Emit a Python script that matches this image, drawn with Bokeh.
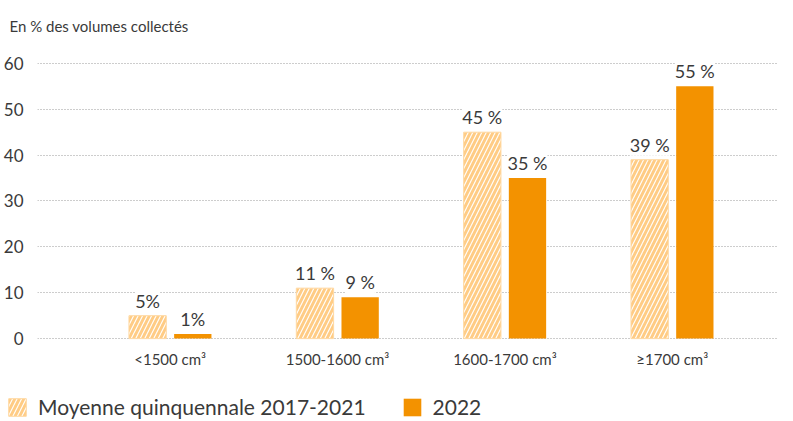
from bokeh.plotting import figure
from bokeh.layouts import column, row
from bokeh.models import (ColumnDataSource, Range1d, FixedTicker, LabelSet, Legend, LegendItem, Title)
from bokeh.core.properties import value
from bokeh.transform import dodge
from bokeh.embed import file_html
from bokeh.resources import INLINE

categories = ["<1500 cm³", "1500-1600 cm³", "1600-1700 cm³", "≥1700 cm³"]
moyenne = [5, 11, 45, 39]
annee_2022 = [1, 9, 35, 55]
labels_moyenne = ["5%", "11 %", "45 %", "39 %"]
labels_2022 = ["1%", "9 %", "35 %", "55 %"]
y_ticks = [0, 10, 20, 30, 40, 50, 60]
series_names = ["Moyenne quinquennale 2017-2021", "2022"]

FONT = "Lato"
TXT = "#3a3a3a"
HATCH_FILL = "#FFCC85"
ORANGE = "#F39200"
HATCH_STYLE = dict(fill_color=HATCH_FILL, line_color="#FFD9A3", line_width=1,
                   hatch_pattern="/", hatch_color="white", hatch_scale=9, hatch_weight=1.1)
SOLID_STYLE = dict(fill_color=ORANGE, line_color=None)

src = ColumnDataSource(dict(
    x=list(range(len(categories))),
    moy=moyenne, a22=annee_2022,
    lm=labels_moyenne, la=labels_2022,
))

p = figure(width=777, height=384, output_backend="svg", toolbar_location=None,
           x_range=Range1d(-0.793, 3.629), y_range=Range1d(-2.59, 63.24),
           min_border_left=34, min_border_right=0, min_border_top=45, min_border_bottom=34,
           outline_line_color=None)

t = Title(text="En % des volumes collectés", align="left", offset=-28,
          text_font=FONT, text_font_size="15px", text_font_style="normal",
          text_color=TXT, standoff=28)
p.add_layout(t, "above")

p.xgrid.visible = False
p.ygrid.ticker = FixedTicker(ticks=y_ticks)
p.ygrid.grid_line_color = "#9a9a9a"
p.ygrid.grid_line_dash = "1 2"
p.ygrid.grid_line_width = 1

p.yaxis.ticker = FixedTicker(ticks=y_ticks)
p.yaxis.axis_line_color = None
p.yaxis.major_tick_line_color = None
p.yaxis.minor_tick_line_color = None
p.yaxis.major_label_text_font = FONT
p.yaxis.major_label_text_font_size = "17px"
p.yaxis.major_label_text_color = TXT
p.yaxis.major_label_standoff = 8

p.xaxis.ticker = FixedTicker(ticks=list(range(len(categories))))
p.xaxis.major_label_overrides = {i: c for i, c in enumerate(categories)}
p.xaxis.axis_line_color = None
p.xaxis.major_tick_line_color = None
p.xaxis.minor_tick_line_color = None
p.xaxis.major_label_text_font = FONT
p.xaxis.major_label_text_font_size = "15px"
p.xaxis.major_label_text_color = TXT
p.xaxis.major_label_standoff = -7

w = 0.223
off = 0.135
p.vbar(x=dodge("x", -off), top="moy", width=w, bottom=0, source=src, **HATCH_STYLE)
p.vbar(x=dodge("x", off), top="a22", width=w, bottom=0, source=src, **SOLID_STYLE)

for field, lab, dx in (("moy", "lm", -off), ("a22", "la", off)):
    ls = LabelSet(x=dodge("x", dx), y=field, text=lab, source=src,
                  text_align="center", text_baseline="middle", y_offset=15,
                  text_font=value(FONT), text_font_size=value("18px"), text_color=value(TXT),
                  background_fill_color="white", border_line_color=None)
    p.add_layout(ls)

# legend strip
lg = figure(width=777, height=36, output_backend="svg", toolbar_location=None,
            x_range=Range1d(0, 1), y_range=Range1d(0, 1),
            x_axis_type=None, y_axis_type=None, outline_line_color=None,
            min_border_left=0, min_border_right=0, min_border_top=0, min_border_bottom=0)
lg.xgrid.visible = False
lg.ygrid.visible = False
d1 = lg.vbar(x=[5], top=[5], bottom=[4], width=0.1, **HATCH_STYLE)
d2 = lg.vbar(x=[5], top=[5], bottom=[4], width=0.1, **SOLID_STYLE)
legend = Legend(items=[LegendItem(label=series_names[0], renderers=[d1]),
                       LegendItem(label=series_names[1], renderers=[d2])],
                orientation="horizontal", location=(6, 1),
                glyph_width=22, glyph_height=22, label_standoff=10, spacing=35,
                padding=0, margin=0, border_line_color=None, background_fill_alpha=0,
                label_text_font=FONT, label_text_font_size="21px", label_text_color=TXT,
                label_height=22)
lg.add_layout(legend, "center")

layout = column(p, row(lg), spacing=0)
open("out.html", "w").write(file_html(layout, INLINE))
